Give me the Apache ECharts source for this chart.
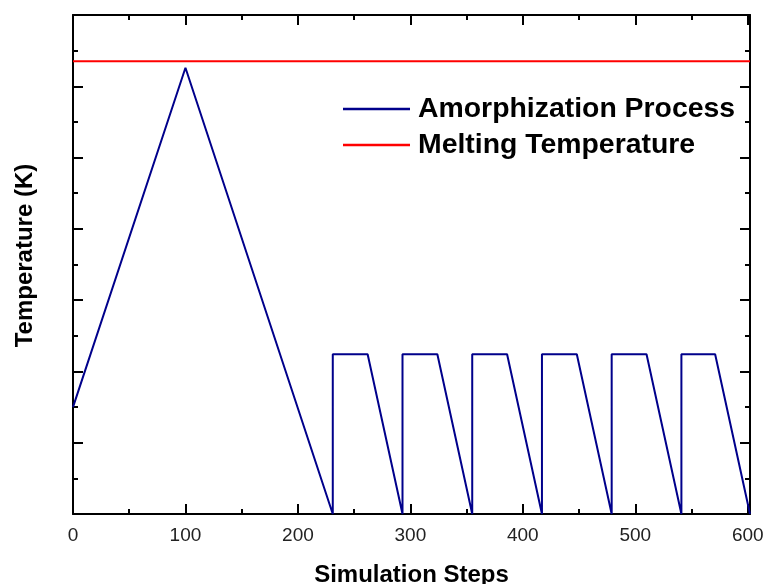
<!DOCTYPE html>
<html>
<head>
<meta charset="utf-8">
<script src="https://cdn.jsdelivr.net/npm/echarts@6/dist/echarts.min.js"></script>
<style>
  html, body { margin: 0; padding: 0; background: #fff; }
  #chart { width: 763px; height: 584px; }
</style>
</head>
<body>
<div id="chart"></div>
<script>
// temperature in axis units (axis labels are hidden in the original)
const steps = [0, 100, 231, 231, 262, 293, 293, 324, 355, 355, 386, 417, 417, 448, 479, 479, 510, 541, 541, 571, 602]
const temps = [1.5, 6.26, 0, 2.24, 2.24, 0, 2.24, 2.24, 0, 2.24, 2.24, 0, 2.24, 2.24, 0, 2.24, 2.24, 0, 2.24, 2.24, 0]
const meltSteps = [0, 602]
const meltTemp = [6.35, 6.35]

const font = "'Liberation Sans', Arial, sans-serif"
const chart = echarts.init(document.getElementById("chart"), null, { renderer: "canvas" })

function frameAxis(extra) {
  return Object.assign({
    type: "value",
    axisLine: { show: true, onZero: false, lineStyle: { color: "#000", width: 2 } },
    axisTick: { show: true, inside: true, length: 10, lineStyle: { color: "#000", width: 2 } },
    minorTick: { show: true, splitNumber: 2, length: 5, lineStyle: { color: "#000", width: 2 } },
    splitLine: { show: false },
    minorSplitLine: { show: false }
  }, extra)
}

chart.setOption({
  animation: false,
  backgroundColor: "#fff",
  textStyle: { fontFamily: font },
  grid: { left: 73, right: 13, top: 15, bottom: 70, containLabel: false, outerBoundsMode: "none" },
  legend: {
    orient: "vertical",
    left: 338,
    top: 90,
    icon: "rect",
    itemWidth: 67,
    itemHeight: 2.5,
    itemGap: 8,
    textStyle: { fontSize: 28.4, fontWeight: "bold", color: "#000", fontFamily: font, lineHeight: 28, padding: [0, 0, 0, 3] },
    data: ["Amorphization Process", "Melting Temperature"]
  },
  xAxis: [
    frameAxis({
      position: "bottom",
      min: 0, max: 602, interval: 100,
      name: "Simulation Steps",
      nameLocation: "middle",
      nameGap: 49,
      nameTextStyle: { fontSize: 24, fontWeight: "bold", color: "#000", fontFamily: font },
      axisLabel: {
        fontSize: 19, color: "#222", margin: 12, fontFamily: font,
        formatter: (v) => (v % 100 === 0 ? String(v) : "")
      }
    }),
    frameAxis({ position: "top", min: 0, max: 602, interval: 100, axisLabel: { show: false } })
  ],
  yAxis: [
    frameAxis({
      position: "left",
      min: 0, max: 7, interval: 1,
      name: "Temperature (K)",
      nameLocation: "middle",
      nameGap: 36,
      nameTextStyle: { fontSize: 24, fontWeight: "bold", color: "#000", fontFamily: font, padding: [0, 0, 0, 18] },
      axisLabel: { show: false }
    }),
    frameAxis({ position: "right", min: 0, max: 7, interval: 1, axisLabel: { show: false } })
  ],
  series: [
    {
      name: "Amorphization Process",
      type: "line",
      symbol: "none",
      color: "#00008B",
      lineStyle: { width: 2, color: "#00008B" },
      data: steps.map((s, i) => [s, temps[i]])
    },
    {
      name: "Melting Temperature",
      type: "line",
      symbol: "none",
      color: "#FF0000",
      lineStyle: { width: 2, color: "#FF0000" },
      data: meltSteps.map((s, i) => [s, meltTemp[i]])
    }
  ]
})
</script>
</body>
</html>
